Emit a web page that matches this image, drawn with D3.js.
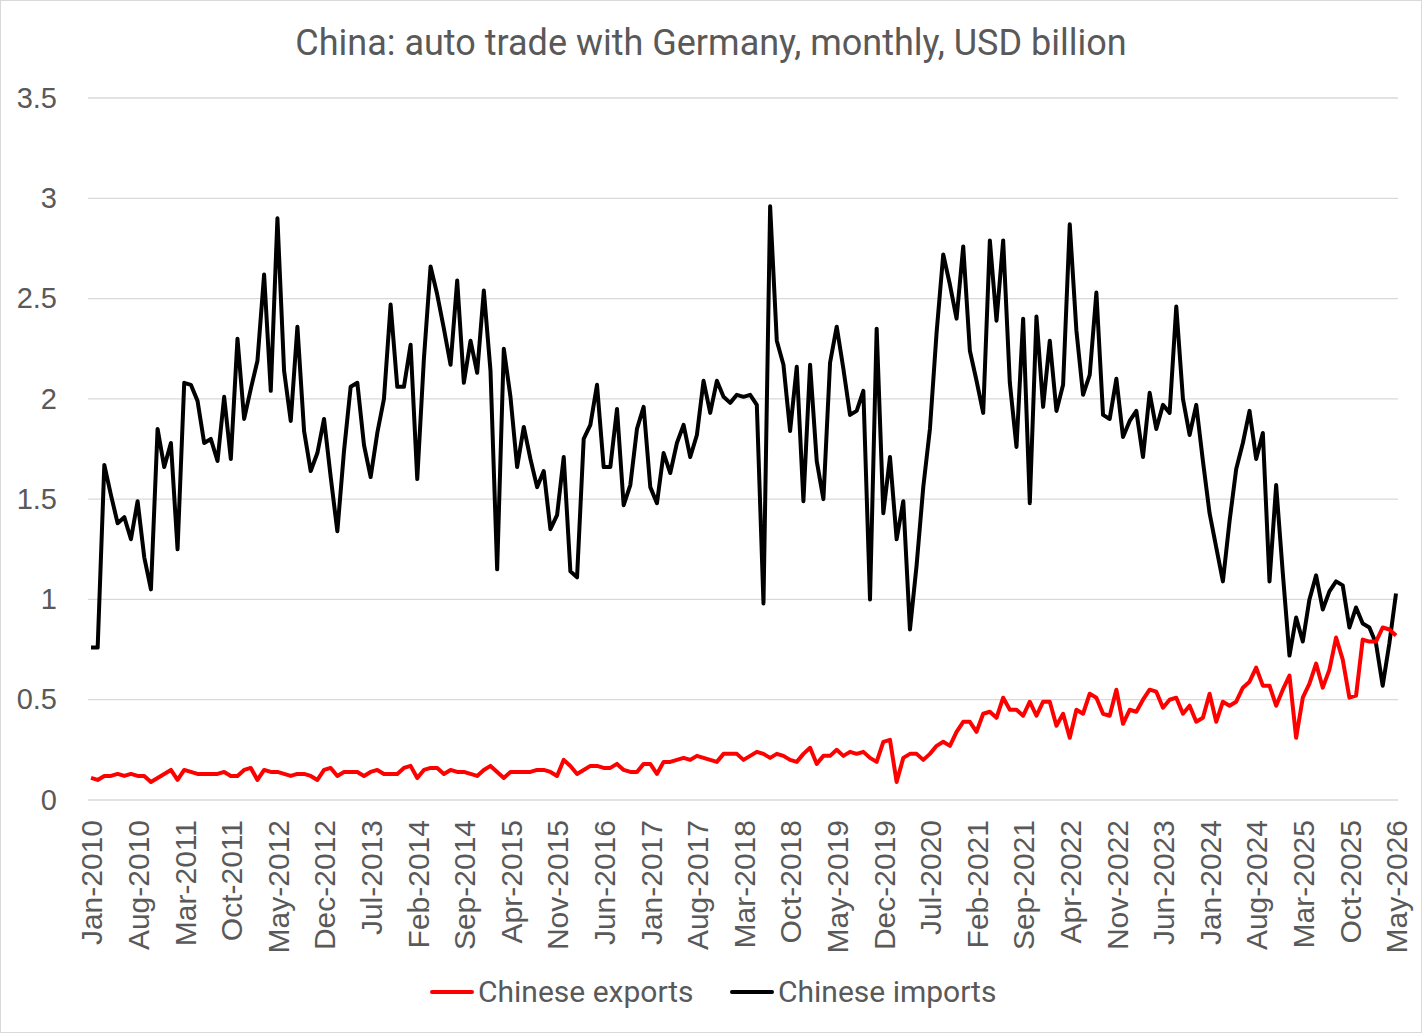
<!DOCTYPE html>
<html>
<head>
<meta charset="utf-8">
<script src="https://cdn.jsdelivr.net/npm/d3@7"></script>
<style>
  body { margin: 0; background: #fff; }
  svg { display: block; font-family: Roboto, "Liberation Sans", Arial, sans-serif; }
  .title { font-size: 36px; fill: #595959; }
  .axis text { font-size: 29px; fill: #595959; }
  .x.axis text { font-size: 30px; }
  .axis path, .axis line { display: none; }
  .legend text { font-size: 30px; fill: #595959; }
</style>
</head>
<body>
<svg id="chart" width="1422" height="1033"></svg>
<script>
// China auto trade with Germany, monthly, USD billion (Jan-2010 .. May-2026)

const tickLabels = [
  'Jan-2010', 'Aug-2010', 'Mar-2011', 'Oct-2011', 'May-2012', 'Dec-2012',
  'Jul-2013', 'Feb-2014', 'Sep-2014', 'Apr-2015', 'Nov-2015', 'Jun-2016',
  'Jan-2017', 'Aug-2017', 'Mar-2018', 'Oct-2018', 'May-2019', 'Dec-2019',
  'Jul-2020', 'Feb-2021', 'Sep-2021', 'Apr-2022', 'Nov-2022', 'Jun-2023',
  'Jan-2024', 'Aug-2024', 'Mar-2025', 'Oct-2025', 'May-2026'
];

const exportsData = [
  0.11, 0.10, 0.12, 0.12, 0.13, 0.12, 0.13, 0.12, 0.12, 0.09, 0.11, 0.13,
  0.15, 0.10, 0.15, 0.14, 0.13, 0.13, 0.13, 0.13, 0.14, 0.12, 0.12, 0.15,
  0.16, 0.10, 0.15, 0.14, 0.14, 0.13, 0.12, 0.13, 0.13, 0.12, 0.10, 0.15,
  0.16, 0.12, 0.14, 0.14, 0.14, 0.12, 0.14, 0.15, 0.13, 0.13, 0.13, 0.16,
  0.17, 0.11, 0.15, 0.16, 0.16, 0.13, 0.15, 0.14, 0.14, 0.13, 0.12, 0.15,
  0.17, 0.14, 0.11, 0.14, 0.14, 0.14, 0.14, 0.15, 0.15, 0.14, 0.12, 0.20,
  0.17, 0.13, 0.15, 0.17, 0.17, 0.16, 0.16, 0.18, 0.15, 0.14, 0.14, 0.18,
  0.18, 0.13, 0.19, 0.19, 0.20, 0.21, 0.20, 0.22, 0.21, 0.20, 0.19, 0.23,
  0.23, 0.23, 0.20, 0.22, 0.24, 0.23, 0.21, 0.23, 0.22, 0.20, 0.19, 0.23,
  0.26, 0.18, 0.22, 0.22, 0.25, 0.22, 0.24, 0.23, 0.24, 0.21, 0.19, 0.29,
  0.30, 0.09, 0.21, 0.23, 0.23, 0.20, 0.23, 0.27, 0.29, 0.27, 0.34, 0.39,
  0.39, 0.34, 0.43, 0.44, 0.41, 0.51, 0.45, 0.45, 0.42, 0.49, 0.42, 0.49,
  0.49, 0.37, 0.43, 0.31, 0.45, 0.43, 0.53, 0.51, 0.43, 0.42, 0.55, 0.38,
  0.45, 0.44, 0.50, 0.55, 0.54, 0.46, 0.50, 0.51, 0.43, 0.47, 0.39, 0.41,
  0.53, 0.39, 0.49, 0.47, 0.49, 0.56, 0.59, 0.66, 0.57, 0.57, 0.47, 0.55,
  0.62, 0.31, 0.51, 0.58, 0.68, 0.56, 0.65, 0.81, 0.70, 0.51, 0.52, 0.80,
  0.79, 0.79, 0.86, 0.85, 0.82
];

const importsData = [
  0.76, 0.76, 1.67, 1.52, 1.38, 1.41, 1.30, 1.49, 1.21, 1.05, 1.85, 1.66,
  1.78, 1.25, 2.08, 2.07, 1.99, 1.78, 1.80, 1.69, 2.01, 1.70, 2.30, 1.90,
  2.05, 2.19, 2.62, 2.04, 2.90, 2.14, 1.89, 2.36, 1.84, 1.64, 1.73, 1.90,
  1.61, 1.34, 1.74, 2.06, 2.08, 1.77, 1.61, 1.83, 2.00, 2.47, 2.06, 2.06,
  2.27, 1.60, 2.20, 2.66, 2.52, 2.35, 2.17, 2.59, 2.08, 2.29, 2.13, 2.54,
  2.14, 1.15, 2.25, 2.01, 1.66, 1.86, 1.70, 1.56, 1.64, 1.35, 1.42, 1.71,
  1.14, 1.11, 1.80, 1.87, 2.07, 1.66, 1.66, 1.95, 1.47, 1.57, 1.85, 1.96,
  1.56, 1.48, 1.73, 1.63, 1.78, 1.87, 1.71, 1.82, 2.09, 1.93, 2.09, 2.01,
  1.98, 2.02, 2.01, 2.02, 1.97, 0.98, 2.96, 2.29, 2.17, 1.84, 2.16, 1.49,
  2.17, 1.69, 1.50, 2.18, 2.36, 2.15, 1.92, 1.94, 2.04, 1.00, 2.35, 1.43,
  1.71, 1.30, 1.49, 0.85, 1.17, 1.56, 1.85, 2.33, 2.72, 2.57, 2.40, 2.76,
  2.24, 2.09, 1.93, 2.79, 2.39, 2.79, 2.08, 1.76, 2.40, 1.48, 2.41, 1.96,
  2.29, 1.94, 2.07, 2.87, 2.34, 2.02, 2.12, 2.53, 1.92, 1.90, 2.10, 1.81,
  1.89, 1.94, 1.71, 2.03, 1.85, 1.97, 1.93, 2.46, 2.00, 1.82, 1.97, 1.69,
  1.43, 1.26, 1.09, 1.39, 1.65, 1.78, 1.94, 1.70, 1.83, 1.09, 1.57, 1.13,
  0.72, 0.91, 0.79, 1.00, 1.12, 0.95, 1.04, 1.09, 1.07, 0.86, 0.96, 0.88,
  0.86, 0.78, 0.57, 0.78, 1.03
];

const yTicks = [0, 0.5, 1, 1.5, 2, 2.5, 3, 3.5];
const tickStep = 7;

const svg = d3.select('#chart');
const width = +svg.attr('width');
const height = +svg.attr('height');
const margin = { top: 98, right: 26, bottom: 233, left: 91 };

svg.append('rect')
  .attr('x', 0.5).attr('y', 0.5)
  .attr('width', width - 1).attr('height', height - 1)
  .attr('fill', '#fff')
  .attr('stroke', '#d9d9d9');

const x = d3.scaleLinear()
  .domain([0, importsData.length - 1])
  .range([margin.left, width - margin.right]);

const y = d3.scaleLinear()
  .domain([0, 3.5])
  .range([height - margin.bottom, margin.top]);

// gridlines
svg.append('g')
  .selectAll('line')
  .data(yTicks)
  .join('line')
  .attr('x1', 88)
  .attr('x2', 1398)
  .attr('y1', d => y(d))
  .attr('y2', d => y(d))
  .attr('stroke', '#d9d9d9')
  .attr('stroke-width', 1.3);

// y axis
svg.append('g')
  .attr('class', 'y axis')
  .attr('transform', `translate(${margin.left - 34},0)`)
  .call(d3.axisLeft(y).tickValues(yTicks).tickSize(0).tickPadding(0).tickFormat(d3.format('')));

// x axis with rotated month labels
const xTickIdx = tickLabels.map((_, i) => i * tickStep);
svg.append('g')
  .attr('class', 'x axis')
  .attr('transform', `translate(0,${y(0)})`)
  .call(d3.axisBottom(x).tickValues(xTickIdx).tickSize(0)
    .tickFormat((d, i) => tickLabels[i]))
  .call(g => g.selectAll('text')
    .attr('transform', 'rotate(-90)')
    .attr('text-anchor', 'end')
    .attr('x', -20)
    .attr('y', 0)
    .attr('dy', '0.36em'));

const line = d3.line()
  .x((d, i) => x(i))
  .y(d => y(d));

svg.append('path')
  .datum(importsData)
  .attr('fill', 'none')
  .attr('stroke', '#000')
  .attr('stroke-width', 4)
  .attr('stroke-linejoin', 'round')
  .attr('d', line);

svg.append('path')
  .datum(exportsData)
  .attr('fill', 'none')
  .attr('stroke', '#ff0000')
  .attr('stroke-width', 4)
  .attr('stroke-linejoin', 'round')
  .attr('d', line);

// title
svg.append('text')
  .attr('class', 'title')
  .attr('x', 711)
  .attr('y', 55)
  .attr('text-anchor', 'middle')
  .text('China: auto trade with Germany, monthly, USD billion');

// legend
const legend = svg.append('g').attr('class', 'legend');
const items = [
  { name: 'Chinese exports', color: '#ff0000', x0: 432 },
  { name: 'Chinese imports', color: '#000', x0: 732 }
];
items.forEach(it => {
  legend.append('line')
    .attr('x1', it.x0).attr('x2', it.x0 + 40)
    .attr('y1', 992).attr('y2', 992)
    .attr('stroke', it.color)
    .attr('stroke-width', 4)
    .attr('stroke-linecap', 'round');
  legend.append('text')
    .attr('x', it.x0 + 46)
    .attr('y', 1002)
    .text(it.name);
});
</script>
</body>
</html>
